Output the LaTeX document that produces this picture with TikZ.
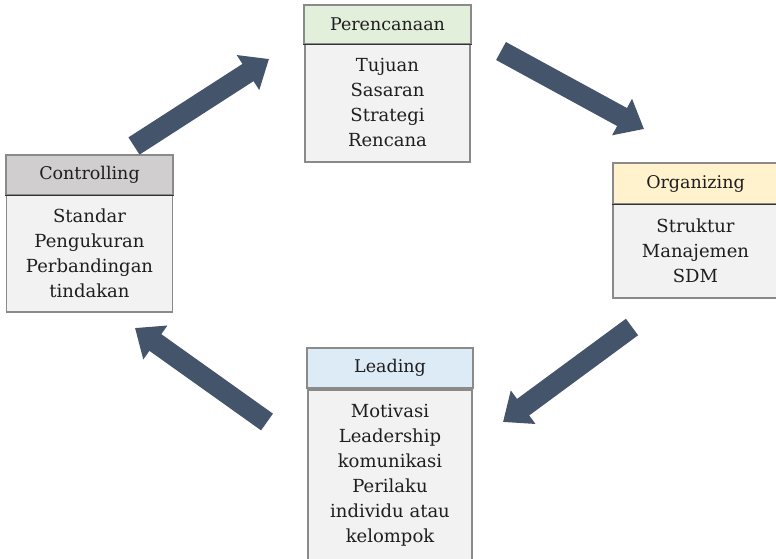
\documentclass[tikz,border=0pt]{standalone}
\usepackage{fontspec}
\setmainfont{DejaVu Serif}
\usetikzlibrary{arrows.meta}
\definecolor{arrowc}{HTML}{44546A}
\definecolor{bordc}{HTML}{8A8A8A}
\definecolor{bodyc}{HTML}{F2F2F2}
\definecolor{txtc}{HTML}{1E1E1E}
\definecolor{greenh}{HTML}{E2EFDA}
\definecolor{yellowh}{HTML}{FFF2CC}
\definecolor{grayh}{HTML}{D0CECE}
\definecolor{blueh}{HTML}{DDEBF7}
\begin{document}
\begin{tikzpicture}[x=1pt,y=-1pt,
  headbox/.style={draw=bordc, line width=1.2pt, inner sep=0pt, text=txtc,
    font=\fontsize{17.5}{20}\selectfont},
  bodybox/.style={draw=bordc, fill=bodyc, line width=1.2pt, inner sep=0pt,
    align=center, text=txtc, font=\fontsize{18}{25}\selectfont},
  divider/.style={draw=black!80, line width=1.6pt},
  blockarrow/.style={draw=arrowc, line width=20.5pt,
    -{Triangle[width=40pt,length=25pt]}}]
\useasboundingbox (0,0) rectangle (776,559);
\clip (0,0) rectangle (776,559);

% Perencanaan
\node[bodybox, minimum width=165pt, minimum height=118pt] (pbody) at (387.5,103) {Tujuan\\Sasaran\\Strategi\\Rencana};
\node[headbox, fill=greenh, minimum width=167pt, minimum height=39pt] (phead) at (387.5,24.5) {Perencanaan};
\draw[divider] (phead.south west) -- (phead.south east);

% Organizing
\node[bodybox, minimum width=165pt, minimum height=94pt] (obody) at (695.5,251) {Struktur\\Manajemen\\SDM};
\node[headbox, fill=yellowh, minimum width=165pt, minimum height=41pt] (ohead) at (695.5,183.5) {Organizing};
\draw[divider] (ohead.south west) -- (ohead.south east);

% Controlling
\node[bodybox, minimum width=166pt, minimum height=117pt] (cbody) at (89.5,253.5) {Standar\\Pengukuran\\Perbandingan\\tindakan};
\node[headbox, fill=grayh, minimum width=167pt, minimum height=40pt] (chead) at (89.5,175) {Controlling};
\draw[divider] (chead.south west) -- (chead.south east);

% Leading
\node[bodybox, minimum width=164pt, minimum height=171pt] (lbody) at (390,475.5) {Motivasi\\Leadership\\komunikasi\\Perilaku\\individu atau\\kelompok};
\node[headbox, fill=blueh, minimum width=166pt, minimum height=40pt] (lhead) at (390,368) {Leading};

% arrows
\coordinate (a1s) at (134,146);
\coordinate (a1e) at (269,59);
\coordinate (a2s) at (501,51);
\coordinate (a2e) at (644,129);
\coordinate (a3s) at (632,327);
\coordinate (a3e) at (503,422);
\coordinate (a4s) at (267,422);
\coordinate (a4e) at (135,328);
\draw[blockarrow] (a1s) -- (a1e);
\draw[blockarrow] (a2s) -- (a2e);
\draw[blockarrow] (a3s) -- (a3e);
\draw[blockarrow] (a4s) -- (a4e);
\end{tikzpicture}
\end{document}
